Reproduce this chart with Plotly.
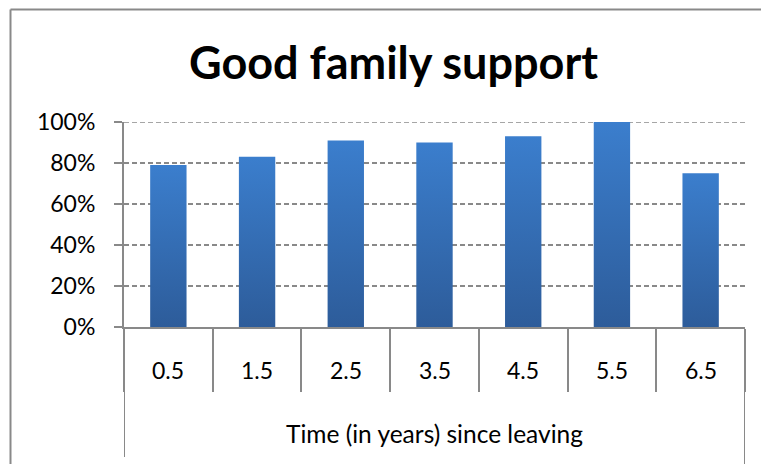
import plotly.graph_objects as go

# Share of respondents reporting good family support, by time since leaving
categories = ["0.5", "1.5", "2.5", "3.5", "4.5", "5.5", "6.5"]
support_share = [0.79, 0.83, 0.91, 0.90, 0.93, 1.00, 0.75]
y_ticks = [0, 0.2, 0.4, 0.6, 0.8, 1.0]

W, H = 761, 464
L, R, T, B = 124, 16, 122, 137
PW, PH = W - L - R, H - T - B

FONT = "Lato"
GRAY = "#898989"
BAR_HALF = 0.205


def px_x(px):
    return (px - L) / PW


def px_y(py):
    return (H - B - py) / PH


fig = go.Figure()

# Bars drawn as filled outlines so each can carry a vertical gradient
for i, v in enumerate(support_share):
    c = i + 0.5
    fig.add_trace(go.Scatter(
        x=[c - BAR_HALF, c + BAR_HALF, c + BAR_HALF, c - BAR_HALF, c - BAR_HALF],
        y=[0, 0, v, v, 0],
        mode="lines",
        line=dict(width=0),
        fill="toself",
        fillgradient=dict(type="vertical",
                          colorscale=[[0, "#2d5c9a"], [1, "#3b7ecd"]]),
        hoverinfo="skip",
        showlegend=False,
    ))

shapes = []
# Top gridline sits on the edge of the range, so it is drawn explicitly
shapes.append(dict(type="line", xref="paper", yref="y", layer="below",
                   x0=0, x1=1, y0=y_ticks[-1], y1=y_ticks[-1],
                   line=dict(color=GRAY, width=1.5, dash="5px,3px")))
# Outer chart frame
shapes.append(dict(type="line", xref="paper", yref="paper",
                   x0=px_x(10.5), x1=px_x(W + 2), y0=px_y(9.5), y1=px_y(9.5),
                   line=dict(color=GRAY, width=2)))
shapes.append(dict(type="line", xref="paper", yref="paper",
                   x0=px_x(10.5), x1=px_x(10.5), y0=px_y(9.5), y1=px_y(H + 2),
                   line=dict(color=GRAY, width=2)))
# Outer edges of the two-level category axis
for xv, bottom in [(0, 457), (len(categories), H + 2)]:
    shapes.append(dict(type="line", xref="x", yref="paper",
                       x0=xv, x1=xv, y0=0, y1=px_y(bottom),
                       line=dict(color=GRAY, width=2)))

annotations = []
for i, cat in enumerate(categories):
    annotations.append(dict(x=i + 0.5, y=px_y(370), xref="x", yref="paper",
                            text=cat, showarrow=False,
                            font=dict(family=FONT, size=23, color="#000"),
                            xanchor="center", yanchor="middle"))
annotations.append(dict(x=len(categories) / 2, y=px_y(433), xref="x", yref="paper",
                        text="Time (in years) since leaving", showarrow=False,
                        font=dict(family=FONT, size=24.5, color="#000"),
                        xanchor="center", yanchor="middle"))

fig.update_layout(
    width=W, height=H,
    margin=dict(l=L, r=R, t=T, b=B),
    paper_bgcolor="white", plot_bgcolor="white",
    title=dict(text="<b>Good family support</b>",
               x=393.5 / W, xref="container", xanchor="center",
               y=1 - 63 / H, yref="container", yanchor="middle",
               font=dict(family=FONT, size=45, color="#000")),
    shapes=shapes,
    annotations=annotations,
    showlegend=False,
)

fig.update_xaxes(
    range=[0, len(categories)],
    tickvals=list(range(len(categories) + 1)),
    showticklabels=False,
    ticks="outside", ticklen=63, tickwidth=2, tickcolor=GRAY,
    showline=True, linecolor=GRAY, linewidth=2,
    showgrid=False, zeroline=False, fixedrange=True,
)

fig.update_yaxes(
    range=[0, 1],
    tickvals=y_ticks, tickformat=".0%",
    ticks="outside", ticklen=8, tickwidth=2, tickcolor=GRAY,
    ticklabelstandoff=14,
    tickfont=dict(family=FONT, size=23, color="#000"),
    showline=True, linecolor=GRAY, linewidth=2,
    showgrid=True, gridcolor=GRAY, gridwidth=1.5, griddash="5px,3px",
    zeroline=False, fixedrange=True,
)

fig.write_html("out.html")
